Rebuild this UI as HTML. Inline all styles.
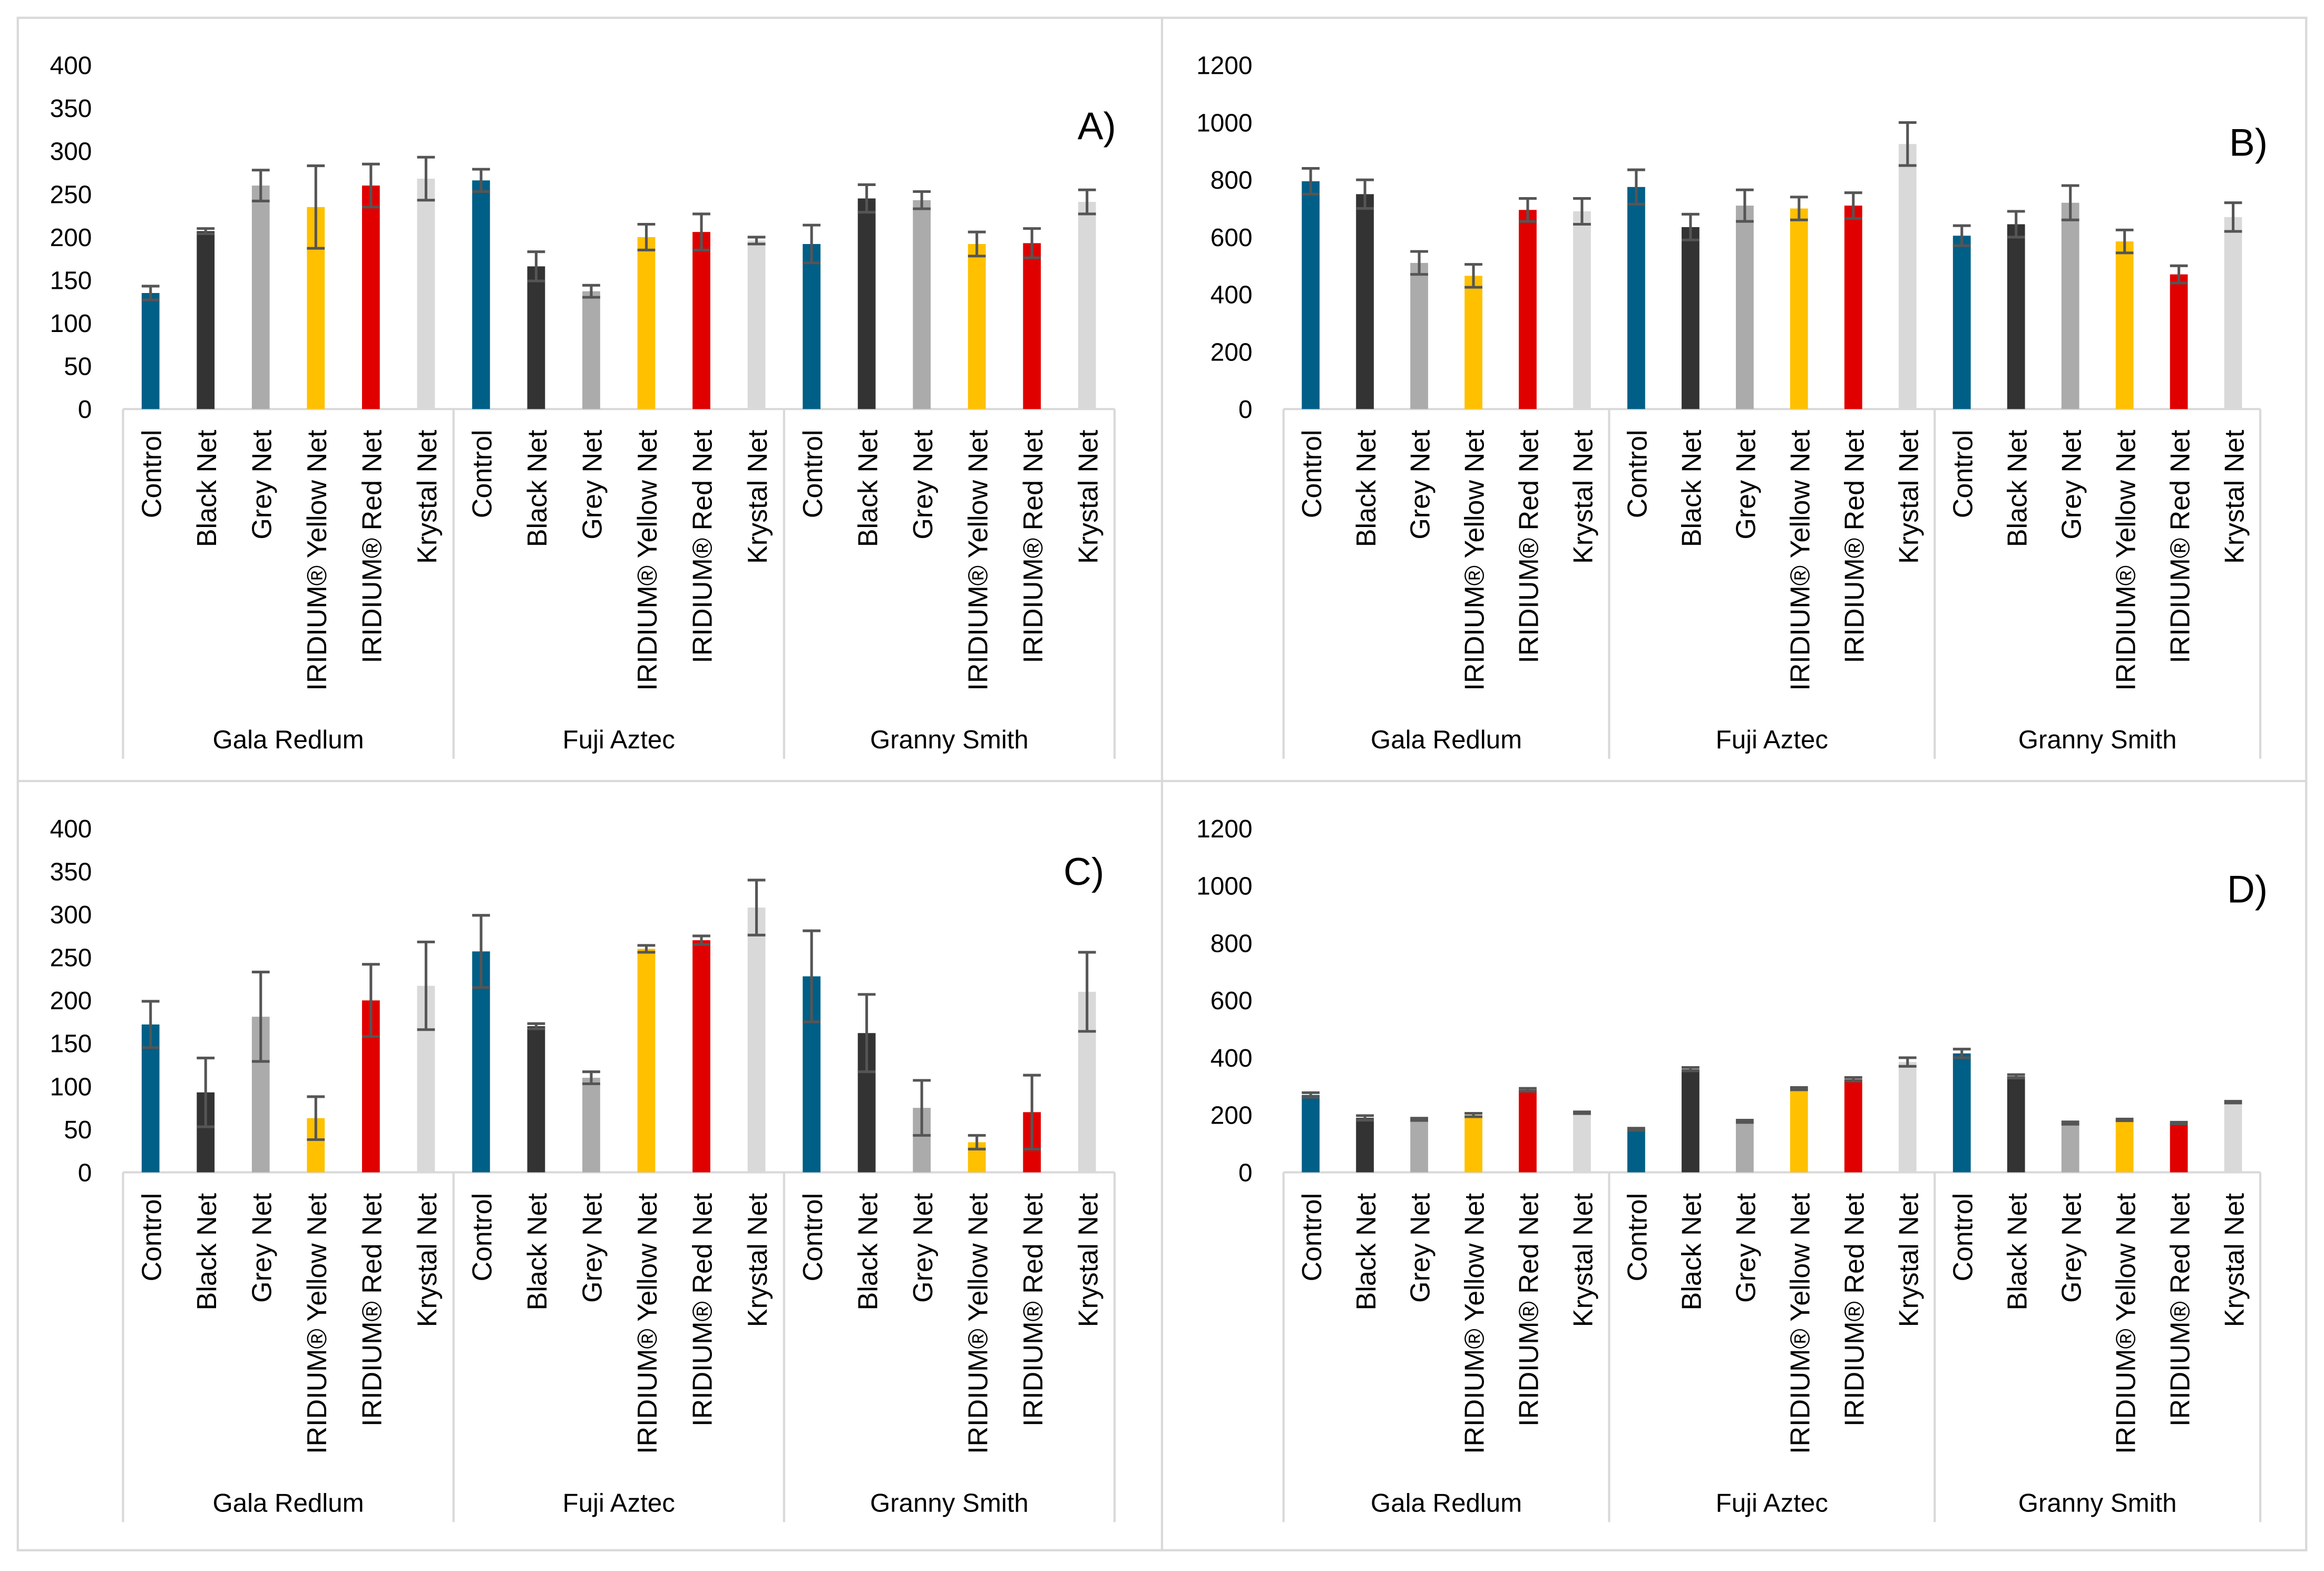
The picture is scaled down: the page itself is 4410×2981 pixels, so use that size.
<!DOCTYPE html>
<html><head><meta charset="utf-8"><style>
html,body{margin:0;padding:0;background:#fff;}
svg{display:block;font-family:"Liberation Sans",sans-serif;}
</style></head><body>
<svg id="fig" width="4410" height="2981" viewBox="0 0 1568 1060" preserveAspectRatio="none" xmlns="http://www.w3.org/2000/svg">
<rect x="12" y="12" width="1544" height="1034" fill="#fff" stroke="#d9d9d9" stroke-width="1.5"/>
<line x1="784" y1="12" x2="784" y2="1046" stroke="#d9d9d9" stroke-width="1.5"/>
<line x1="12" y1="527" x2="1556" y2="527" stroke="#d9d9d9" stroke-width="1.5"/>
</svg>
<script>
const groups = ["Gala Redlum","Fuji Aztec","Granny Smith"];
const categories = ["Control","Black Net","Grey Net","IRIDIUM® Yellow Net","IRIDIUM® Red Net","Krystal Net"];
const colors = ["#005F87","#333333","#ABABAB","#FFC000","#E00000","#D9D9D9"];
const valuesA = [135,207,260,235,260,268, 266,166,137,200,206,196, 192,245,243,192,193,241];
const errorsA = [8,3,18,48,25,25, 13,17,7,15,21,4, 22,16,10,14,17,14];
const valuesB = [795,750,510,465,695,690, 775,635,710,700,710,925, 605,645,720,585,470,670];
const errorsB = [45,50,40,40,40,45, 60,45,55,40,45,75, 35,45,60,40,30,50];
const valuesC = [172,93,181,63,200,217, 257,170,110,260,270,308, 228,162,75,35,70,210];
const errorsC = [27,40,52,25,42,51, 42,3,7,4,5,32, 53,45,32,8,43,46];
const valuesD = [270,190,185,200,288,208, 150,360,178,292,325,385, 415,335,172,183,172,245];
const errorsD = [8,8,4,6,5,3, 4,6,4,4,6,15, 15,6,4,3,3,3];
const ticksA = [0,50,100,150,200,250,300,350,400];
const ticksB = [0,200,400,600,800,1000,1200];

const NS="http://www.w3.org/2000/svg";
const svg=document.getElementById('fig');
function mk(tag,attrs,parent){const e=document.createElementNS(NS,tag);for(const k in attrs)e.setAttribute(k,attrs[k]);(parent||svg).appendChild(e);return e;}

function panel(id,vals,errs,ticks,x0,x1,yTop,yBot,label,lx,ly){
  const g=mk('g',{});
  
  
  const vmax=ticks[ticks.length-1];
  const yS=v=>yBot-(v/vmax)*(yBot-yTop);
  const n=vals.length, step=(x1-x0)/n;
  const xS=i=>x0+step*(i+0.5);
  ticks.forEach(t=>{
    const tx=mk('text',{x:x0-21,y:yS(t)+6,'text-anchor':'end','font-size':17,fill:'#000'},g);
    
    
    tx.textContent=t;
  });
  const ax=mk('line',{x1:x0,y1:yBot,x2:x1,y2:yBot,stroke:'#d9d9d9','stroke-width':1.5},g);
  
  
  for(let k=0;k<=3;k++){
    const sx=x0+k*6*step;
    const sl=mk('line',{x1:sx,y1:yBot,x2:sx,y2:yBot+236,stroke:'#d9d9d9','stroke-width':1.5},g);
    
    
  }
  groups.forEach((gn,k)=>{
    const t=mk('text',{x:x0+(k*6+3)*step,y:yBot+229,'text-anchor':'middle','font-size':17.5,fill:'#000'},g);
    
    
    t.textContent=gn;
  });
  vals.forEach((v,i)=>{
    const c=i%6, cx=xS(i), bw=12;
    const r=mk('rect',{x:cx-bw/2,y:yS(v),width:bw,height:yBot-yS(v),fill:colors[c]},g);
    
    
    const e=errs[i];
    const eb=mk('path',{d:`M${cx},${yS(v+e)}V${yS(Math.max(0,v-e))}M${cx-6},${yS(v+e)}H${cx+6}M${cx-6},${yS(Math.max(0,v-e))}H${cx+6}`,stroke:'#555',fill:'none','stroke-width':1.8},g);
    
    
    const tl=mk('text',{transform:`translate(${cx+7},${yBot+14}) rotate(-90)`,'text-anchor':'end','font-size':18.5,fill:'#000'},g);
    
    
    tl.textContent=categories[c];
  });
  const pl=mk('text',{x:lx,y:ly,'text-anchor':'end','font-size':26,fill:'#000'},g);
  
  
  pl.textContent=label;
}
panel('a',valuesA,errorsA,ticksA,83,752,44,276,'A)',753,94);
panel('b',valuesB,errorsB,ticksB,866,1525,44,276,'B)',1530,105);
panel('c',valuesC,errorsC,ticksA,83,752,559,791,'C)',745,597);
panel('d',valuesD,errorsD,ticksB,866,1525,559,791,'D)',1530,609);
</script>
</body></html>
